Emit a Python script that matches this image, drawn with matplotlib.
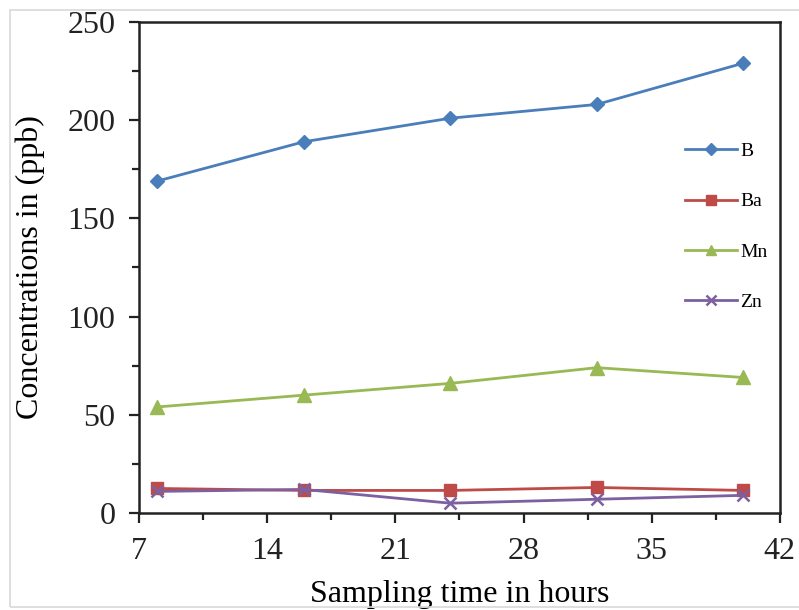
import numpy as np
import matplotlib.pyplot as plt
from matplotlib.patches import Rectangle
from matplotlib.ticker import MultipleLocator

hours = [8, 16, 24, 32, 40]
b_vals = [169, 189, 201, 208, 229]
ba_vals = [12.5, 11.5, 11.5, 13, 11.5]
mn_vals = [54, 60, 66, 74, 69]
zn_vals = [11, 12, 5, 7, 9]

plt.rcParams['font.family'] = ['Liberation Serif', 'DejaVu Serif']

fig = plt.figure(figsize=(7.99, 6.10), dpi=100)
ax = fig.add_axes([0.174, 0.159, 0.802, 0.805])

# grey frame round the picture (right edge falls off the image)
fig.patches.append(Rectangle((0.012, 0.005), 1.2, 0.978, transform=fig.transFigure,
                             fill=False, edgecolor='#d9d9d9', linewidth=1.2))

ax.plot(hours, b_vals, color='#4a7ebb', marker='D', markersize=7.5, lw=2, label='B')
ax.plot(hours, ba_vals, color='#be4b48', marker='s', markersize=9, lw=2, label='Ba')
ax.plot(hours, mn_vals, color='#98b954', marker='^', markersize=9.5, lw=2, label='Mn')
ax.plot(hours, zn_vals, color='#7d60a0', marker='x', markersize=9, mew=1.8, lw=2, label='Zn')

ax.set_xlim(7, 42)
ax.set_ylim(0, 250)
ax.xaxis.set_major_locator(MultipleLocator(7))
ax.xaxis.set_minor_locator(MultipleLocator(3.5))
ax.yaxis.set_major_locator(MultipleLocator(50))
ax.yaxis.set_minor_locator(MultipleLocator(25))
ax.tick_params(which='both', direction='out', width=1.6, labelsize=23, colors='#222222', pad=10)
ax.tick_params(which='major', length=7)
ax.tick_params(which='minor', length=5)
for s in ax.spines.values():
    s.set_linewidth(1.8)
    s.set_color('#222222')

ax.set_xlabel('Sampling time in hours', fontsize=23, labelpad=10)
ax.set_ylabel('Concentrations in (ppb)', fontsize=23, labelpad=16)

ax.legend(loc='upper left', bbox_to_anchor=(0.824, 0.79), frameon=False, fontsize=14,
          labelspacing=1.68, handlelength=2.7, handletextpad=0.15, markerscale=0.8)

plt.savefig('out.png', dpi=100)
